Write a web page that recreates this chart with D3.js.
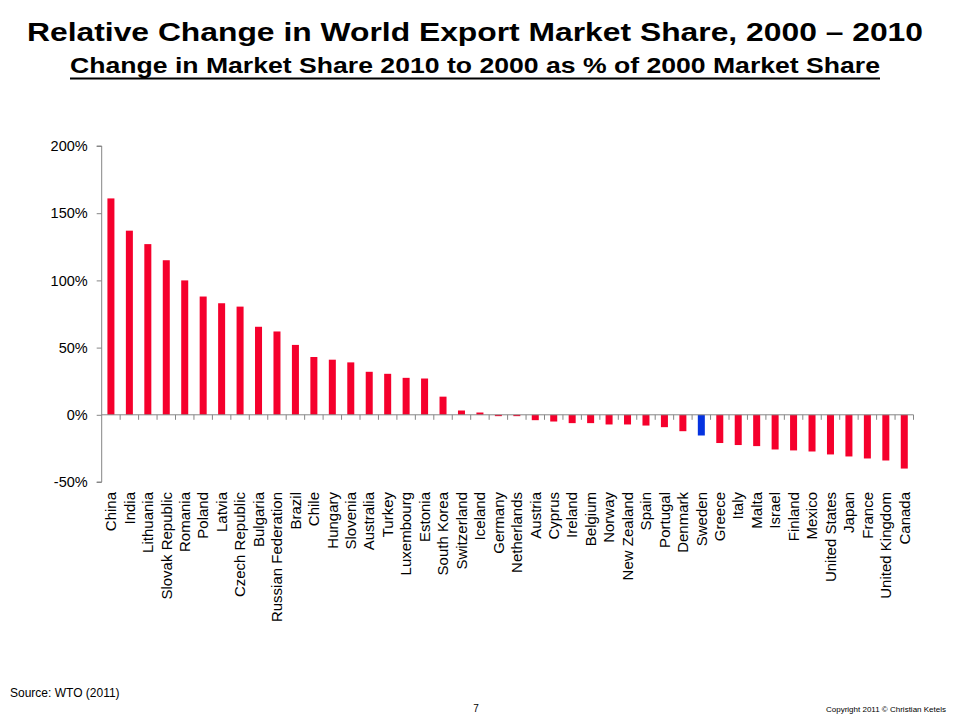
<!DOCTYPE html>
<html>
<head>
<meta charset="utf-8">
<script src="https://cdn.jsdelivr.net/npm/d3@7"></script>
<style>
  html, body { margin: 0; padding: 0; background: #fff; }
  svg text { font-family: "Liberation Sans", Arial, sans-serif; }
</style>
</head>
<body>
<svg id="chart" width="960" height="720"></svg>
<script>
const countries = ["China","India","Lithuania","Slovak Republic","Romania","Poland","Latvia","Czech Republic","Bulgaria","Russian Federation","Brazil","Chile","Hungary","Slovenia","Australia","Turkey","Luxembourg","Estonia","South Korea","Switzerland","Iceland","Germany","Netherlands","Austria","Cyprus","Ireland","Belgium","Norway","New Zealand","Spain","Portugal","Denmark","Sweden","Greece","Italy","Malta","Israel","Finland","Mexico","United States","Japan","France","United Kingdom","Canada"];
const changes = [161,137,127,115,100,88,83,80.5,65.5,62,52,43,41,39,32,30.5,27.5,27,13.5,3.2,1.7,-1,-1,-4,-5,-6.2,-6.2,-7.2,-7.2,-8,-9.2,-12.2,-15.4,-21,-22.5,-23.3,-25.8,-26.5,-27.3,-29.5,-31,-32.5,-34,-40];
const highlighted = ["Sweden"];
const yTicks = [-50,0,50,100,150,200];
const titleText = "Relative Change in World Export Market Share, 2000 \u2013 2010";
const subtitleText = "Change in Market Share 2010 to 2000 as % of 2000 Market Share";

const svg = d3.select("#chart");
const mLeft = 101.7, mRight = 913.5, mTop = 146, mBottom = 482;
const axisColor = "#868686";

const x = d3.scaleBand().domain(countries).range([mLeft, mRight]).paddingInner(0.62).paddingOuter(0.31);
const y = d3.scaleLinear().domain([-50, 200]).range([mBottom, mTop]);
const step = x.step();

// Titles
svg.append("text").attr("x", 27).attr("y", 41)
  .attr("textLength", 896).attr("lengthAdjust", "spacingAndGlyphs")
  .style("font-size", "26px").style("font-weight", "bold").attr("fill", "#000")
  .text(titleText);
svg.append("text").attr("x", 70).attr("y", 73)
  .attr("textLength", 810).attr("lengthAdjust", "spacingAndGlyphs")
  .style("font-size", "22.5px").style("font-weight", "bold").attr("fill", "#000")
  .text(subtitleText);
svg.append("line").attr("x1", 70).attr("x2", 880).attr("y1", 78.5).attr("y2", 78.5)
  .attr("stroke", "#000").attr("stroke-width", 2);

// Bars
svg.append("g").selectAll("rect").data(countries).join("rect")
  .attr("x", d => x(d))
  .attr("width", x.bandwidth())
  .attr("y", (d, i) => y(Math.max(0, changes[i])))
  .attr("height", (d, i) => Math.abs(y(changes[i]) - y(0)))
  .attr("fill", d => highlighted.includes(d) ? "#0533e0" : "#f5002c");

// Y axis
const yAxis = d3.axisLeft(y).tickValues(yTicks).tickFormat(d => d + "%").tickSize(5).tickPadding(9);
const gy = svg.append("g").attr("transform", `translate(${mLeft},0)`).call(yAxis);
gy.select(".domain").attr("stroke", axisColor).attr("d", `M-5,${y(-50)}H0V${y(200)}H-5`);
gy.selectAll(".tick line").attr("stroke", axisColor);
gy.selectAll(".tick text").style("font-size", "14.5px").attr("fill", "#000");

// Zero baseline with category ticks
const gx = svg.append("g");
gx.append("line").attr("x1", mLeft).attr("x2", mRight).attr("y1", y(0)).attr("y2", y(0)).attr("stroke", axisColor);
gx.selectAll("line.t").data(countries).join("line").attr("class", "t")
  .attr("x1", d => x(d) + x.bandwidth() / 2 + step / 2)
  .attr("x2", d => x(d) + x.bandwidth() / 2 + step / 2)
  .attr("y1", y(0)).attr("y2", y(0) + 5).attr("stroke", axisColor);

// Category labels
svg.append("g").selectAll("text").data(countries).join("text")
  .attr("transform", d => `translate(${x(d) + x.bandwidth() / 2},492) rotate(-90)`)
  .attr("text-anchor", "end").attr("dy", "0.35em")
  .style("font-size", "15px").attr("fill", "#000")
  .text(d => d);

// Footer
svg.append("text").attr("x", 10).attr("y", 697).style("font-size", "12px").attr("fill", "#000").text("Source: WTO (2011)");
svg.append("text").attr("x", 476).attr("y", 712).attr("text-anchor", "middle").style("font-size", "10px").attr("fill", "#000").text("7");
svg.append("text").attr("x", 946).attr("y", 712).attr("text-anchor", "end").style("font-size", "8px").attr("fill", "#000").text("Copyright 2011 \u00a9 Christian Ketels");
</script>
</body>
</html>
